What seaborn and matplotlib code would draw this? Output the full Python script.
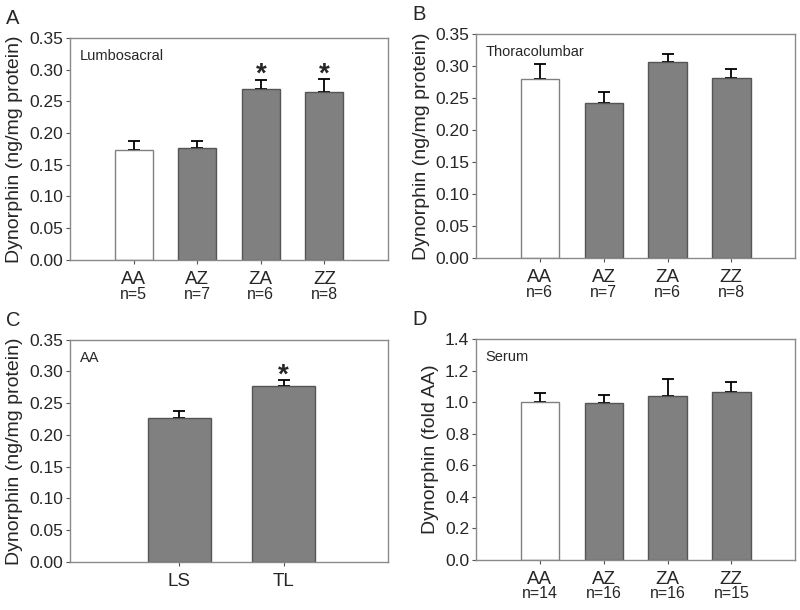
import numpy as np
import pandas as pd
import seaborn as sns
import matplotlib.pyplot as plt
from matplotlib.transforms import blended_transform_factory

# === Data ===
groups = ["AA", "AZ", "ZA", "ZZ"]

# A: lumbosacral
ls_mean = [0.173, 0.176, 0.270, 0.265]
ls_err = [0.014, 0.011, 0.014, 0.020]
ls_n = ["n=5", "n=7", "n=6", "n=8"]
ls_star = [False, False, True, True]

# B: thoracolumbar
tl_mean = [0.280, 0.243, 0.306, 0.281]
tl_err = [0.024, 0.017, 0.013, 0.015]
tl_n = ["n=6", "n=7", "n=6", "n=8"]

# C: AA, region comparison
regions = ["LS", "TL"]
aa_mean = [0.226, 0.277]
aa_err = [0.012, 0.009]
aa_star = [False, True]

# D: serum, fold of AA
serum_mean = [1.003, 0.995, 1.039, 1.068]
serum_err = [0.057, 0.048, 0.106, 0.058]
serum_n = ["n=14", "n=16", "n=16", "n=15"]

# === Style ===
sns.set_style("white")
plt.rcParams['font.family'] = ['Liberation Sans', 'DejaVu Sans']

GREY = "#808080"
EDGE = "#555555"
SPINE = "#8a8a8a"


def draw_panel(ax, cats, means, errs, fills, ylim, yticks, fmt, ylabel,
               inset, letter, xlim, n_labels=None, stars=None):
    df = pd.DataFrame({"group": cats, "value": means})
    sns.barplot(data=df, x="group", y="value", hue="group", palette=fills,
                width=0.6, errorbar=None, legend=False, ax=ax, zorder=2)
    for patch, fill in zip(ax.patches, fills):
        patch.set_edgecolor(GREY if fill == "white" else EDGE)
        patch.set_linewidth(1.0)

    xs = np.arange(len(cats))
    ax.errorbar(xs, means, yerr=[np.zeros(len(errs)), errs], fmt="none",
                ecolor="black", elinewidth=1.3, capsize=4, capthick=1.3, zorder=1)

    if stars is not None:
        for x, m, e, s in zip(xs, means, errs, stars):
            if s:
                ax.annotate("*", (x, m + e), xytext=(0, -6), textcoords="offset points",
                            ha="center", va="bottom", fontsize=20, fontweight="bold")

    ax.set_xlim(*xlim)
    ax.set_ylim(*ylim)
    ax.set_yticks(yticks)
    ax.set_yticklabels([fmt.format(t) for t in yticks])
    ax.set_xlabel("")
    ax.set_ylabel(ylabel, fontsize=14, labelpad=4)
    ax.tick_params(axis="both", direction="out", length=3, width=0.8,
                   color="#555555", labelsize=12.5, left=True, bottom=True, pad=2)
    ax.tick_params(axis="x", labelsize=13.5, pad=5)

    for sp in ax.spines.values():
        sp.set_color(SPINE)
        sp.set_linewidth(1.0)

    ax.text(0.03, 0.95, inset, transform=ax.transAxes, ha="left", va="top", fontsize=10.5)
    ax.text(-0.2, 1.13, letter, transform=ax.transAxes, ha="left", va="top", fontsize=14.5)

    if n_labels is not None:
        trans = blended_transform_factory(ax.transData, ax.transAxes)
        for x, lab in zip(xs, n_labels):
            ax.text(x, -0.12, lab, transform=trans, ha="center", va="top", fontsize=11.5)


fig = plt.figure(figsize=(8, 6.1), dpi=100)
ax_a = fig.add_axes([0.0875, 0.574, 0.3975, 0.364])
ax_b = fig.add_axes([0.595, 0.577, 0.399, 0.367])
ax_c = fig.add_axes([0.0875, 0.079, 0.3975, 0.364])
ax_d = fig.add_axes([0.595, 0.082, 0.399, 0.362])

fills4 = ["white", GREY, GREY, GREY]
yt = np.round(np.arange(0, 0.351, 0.05), 2)

draw_panel(ax_a, groups, ls_mean, ls_err, fills4, (0, 0.35), yt, "{:.2f}",
           "Dynorphin (ng/mg protein)", "Lumbosacral", "A", (-1, 4),
           n_labels=ls_n, stars=ls_star)
draw_panel(ax_b, groups, tl_mean, tl_err, fills4, (0, 0.35), yt, "{:.2f}",
           "Dynorphin (ng/mg protein)", "Thoracolumbar", "B", (-1, 4),
           n_labels=tl_n)
draw_panel(ax_c, regions, aa_mean, aa_err, [GREY, GREY], (0, 0.35), yt, "{:.2f}",
           "Dynorphin (ng/mg protein)", "AA", "C", (-1.05, 2.0),
           stars=aa_star)
draw_panel(ax_d, groups, serum_mean, serum_err, fills4, (0, 1.4),
           np.round(np.arange(0, 1.41, 0.2), 1), "{:.1f}",
           "Dynorphin (fold AA)", "Serum", "D", (-1, 4),
           n_labels=serum_n)

fig.savefig("out.png", dpi=100)
plt.close(fig)
